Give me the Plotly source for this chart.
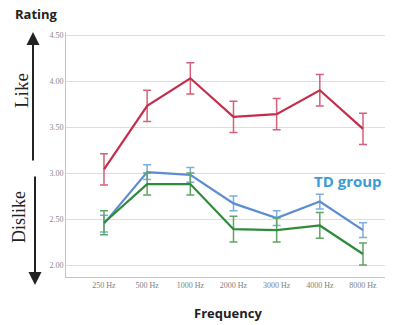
import plotly.graph_objects as go

freqs = ["250 Hz", "500 Hz", "1000 Hz", "2000 Hz", "3000 Hz", "4000 Hz", "8000 Hz"]
red_vals = [3.04, 3.73, 4.03, 3.61, 3.64, 3.90, 3.48]
red_err = [0.17, 0.17, 0.17, 0.17, 0.17, 0.17, 0.17]
blue_vals = [2.45, 3.01, 2.98, 2.67, 2.51, 2.69, 2.38]
blue_err = [0.09, 0.08, 0.08, 0.08, 0.08, 0.08, 0.08]
green_vals = [2.46, 2.88, 2.88, 2.39, 2.38, 2.43, 2.12]
green_err = [0.13, 0.12, 0.12, 0.14, 0.13, 0.14, 0.12]
y_ticks = [2.0, 2.5, 3.0, 3.5, 4.0, 4.5]

fig = go.Figure()

def add_series(vals, errs, color, ecolor):
    fig.add_trace(go.Scatter(
        x=list(range(len(freqs))), y=vals, mode="lines",
        line=dict(color=color, width=2.2),
        error_y=dict(type="data", array=errs, visible=True, color=ecolor, thickness=1.5, width=4),
        showlegend=False, hoverinfo="skip"))

add_series(red_vals, red_err, "#c42e4c", "#d4607a")
add_series(blue_vals, blue_err, "#5b8dd0", "#7aaee0")
add_series(green_vals, green_err, "#2e8b3a", "#5fa563")

fig.update_layout(
    width=398, height=325,
    margin=dict(l=66, r=13, t=32, b=48, autoexpand=False),
    paper_bgcolor="white", plot_bgcolor="white",
    xaxis=dict(range=[-0.88, 6.51], tickmode="array", tickvals=list(range(len(freqs))), ticktext=freqs,
               showgrid=False, zeroline=False, showline=True, linecolor="#c4c4c4", linewidth=1,
               ticks="", automargin=False,
               tickfont=dict(family="Liberation Serif", size=8, color="#808080")),
    yaxis=dict(range=[1.87, 4.533], tickmode="array", tickvals=y_ticks, tickformat=".2f",
               showgrid=True, gridcolor="#dddddd", gridwidth=1, zeroline=False,
               showline=True, linecolor="#c4c4c4", linewidth=1, ticks="", automargin=False,
               tickfont=dict(family="Liberation Serif", size=8, color="#888888")),
)

def px(xp):
    return (xp - 66) / 319.0

def py(yp):
    return (277 - yp) / 245.0

def label(x, y, text, font, angle=0):
    return dict(x=px(x), y=py(y), xref="paper", yref="paper", text=text, showarrow=False,
                textangle=angle, xanchor="center", yanchor="middle", font=font)

anns = [
    dict(x=px(33), y=py(32), xref="paper", yref="paper", ax=0, ay=130, showarrow=True,
         arrowhead=2, arrowsize=1.3, arrowwidth=2, arrowcolor="#222222", text=""),
    dict(x=px(35), y=py(285), xref="paper", yref="paper", ax=0, ay=-110, showarrow=True,
         arrowhead=2, arrowsize=1.3, arrowwidth=2, arrowcolor="#222222", text=""),
    label(21, 91, "Like", dict(family="Liberation Serif", size=19, color="#222222"), -90),
    label(19, 217, "Dislike", dict(family="Liberation Serif", size=18, color="#222222"), -90),
    label(36, 14, "<b>Rating</b>", dict(family="Open Sans", size=13, color="#222222")),
    label(228, 313, "<b>Frequency</b>", dict(family="Open Sans", size=13, color="#222222")),
    label(348, 181, "<b>TD group</b>", dict(family="Open Sans", size=15, color="#3d9bd6")),
]
fig.update_layout(annotations=anns)

fig.write_html("out.html",
               config={"displayModeBar": False},
               post_script="document.body.style.margin='0';document.body.style.padding='0';document.body.style.overflow='hidden';")
